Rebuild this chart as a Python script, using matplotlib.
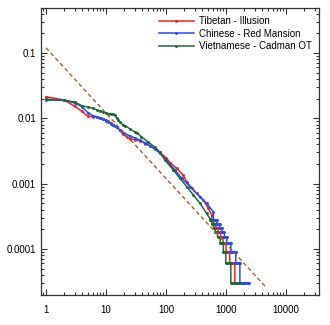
import numpy as np
import matplotlib
matplotlib.use("Agg")
import matplotlib.pyplot as plt
from matplotlib.ticker import LogLocator, FuncFormatter, NullFormatter

plt.rcParams['font.family'] = ['Liberation Sans', 'DejaVu Sans']

# rank / relative frequency, head and middle part of each text
tib_rank = [1, 2, 3, 4, 5, 6, 7, 8, 9, 10, 11, 12, 13, 15, 17, 19, 22, 25, 30, 37,
            45, 54, 65, 79, 100, 117, 150, 194, 220, 269, 325, 419, 508, 576]
tib_freq = [0.0214, 0.0191, 0.0153, 0.0128, 0.0107, 0.0106, 0.0105, 0.0101, 0.0097,
            0.0093, 0.0090, 0.0085, 0.0080, 0.0074, 0.0066, 0.0057, 0.0052, 0.0049,
            0.0047, 0.0045, 0.0041, 0.0038, 0.0034, 0.0030, 0.0025, 0.0021, 0.00171,
            0.00135, 0.00107, 0.00085, 0.00071, 0.00056, 0.00042, 0.00033]

chn_rank = [1, 2, 3, 4, 5, 6, 7, 8, 9, 10, 11, 12, 13, 14, 15, 17, 20, 25, 30, 37,
            45, 54, 65, 79, 100, 141, 183, 251, 368, 475, 614]
chn_freq = [0.0189, 0.0189, 0.0172, 0.0150, 0.0122, 0.0110, 0.0106, 0.0102, 0.0099,
            0.0092, 0.0088, 0.0083, 0.0079, 0.0076, 0.0073, 0.0066, 0.0059, 0.0054,
            0.0050, 0.0046, 0.0042, 0.0038, 0.0034, 0.0029, 0.0023, 0.00162, 0.00121,
            0.00090, 0.00063, 0.00050, 0.00037]

vie_rank = [1, 2, 3, 4, 5, 6, 7, 8, 9, 10, 11, 12, 13, 14, 15, 16, 17, 19, 21, 25,
            30, 33, 39, 51, 66, 80, 96, 132, 171, 221, 286, 368, 475, 540]
vie_freq = [0.0197, 0.0189, 0.0178, 0.0155, 0.0149, 0.0143, 0.0135, 0.0129, 0.0125,
            0.0121, 0.0118, 0.0118, 0.0117, 0.0112, 0.0102, 0.0094, 0.0087, 0.0080,
            0.0077, 0.0069, 0.0062, 0.0060, 0.0052, 0.0043, 0.0036, 0.0030, 0.0023,
            0.00162, 0.00120, 0.00090, 0.00067, 0.00050, 0.00035, 0.00029]

# low-count tail: last rank holding each count (counts 9 .. 1)
tail_counts = [9, 8, 7, 6, 5, 4, 3, 2, 1]
corpus_size = 33000
tib_tail_end = [620, 680, 740, 810, 890, 1000, 1150, 1400, 2000]
chn_tail_end = [700, 780, 850, 940, 1030, 1200, 1450, 1700, 2445]
vie_tail_end = [580, 620, 660, 720, 800, 900, 990, 1200, 1700]

# reference power law  c * r^a
ref_coef = 0.12
ref_exp = -1.0
ref_range = [1, 4500]

series = [
    ("Tibetan - Illusion", tib_rank, tib_freq, tib_tail_end, "#f2201a"),
    ("Chinese - Red Mansion", chn_rank, chn_freq, chn_tail_end, "#1f4cff"),
    ("Vietnamese - Cadman OT", vie_rank, vie_freq, vie_tail_end, "#1b6b38"),
]


def with_tail(rank, freq, ends):
    r = list(rank)
    f = list(freq)
    start = rank[-1] + 1
    for cnt, end in zip(tail_counts, ends):
        lvl = cnt / corpus_size
        r += [start, end]
        f += [lvl, lvl]
        start = end + 1
    return r, f


fig = plt.figure(figsize=(3.3, 3.25), dpi=100)
ax = fig.add_axes([0.124, 0.0923, 0.843, 0.8831])

for label, rank, freq, ends, col in series:
    r, f = with_tail(rank, freq, ends)
    ax.plot(r, f, color=col, lw=1.1, marker='.', ms=2.2, label=label)
    # horizontal runs of equal counts are dense with points -> thicker
    lv = np.array(tail_counts) / corpus_size
    starts = [rank[-1] + 1] + [e + 1 for e in ends[:-1]]
    ax.hlines(lv, starts, ends, color=col, lw=2.0)

xr = np.array(ref_range, dtype=float)
ax.plot(xr, ref_coef * xr ** ref_exp, color="#a06428", lw=1.0,
        dashes=(3, 2))

ax.set_xscale('log')
ax.set_yscale('log')
ax.set_xlim(0.825, 35500)
ax.set_ylim(1.97e-5, 0.489)

fmt = FuncFormatter(lambda v, _: f"{v:g}")
for axis in (ax.xaxis, ax.yaxis):
    axis.set_major_locator(LogLocator(base=10, numticks=12))
    axis.set_minor_locator(LogLocator(base=10, subs=np.arange(2, 10), numticks=12))
    axis.set_major_formatter(fmt)
    axis.set_minor_formatter(NullFormatter())

ax.tick_params(which='both', direction='in', top=True, right=True,
               labelsize=7, width=0.8, color='#333333')
ax.tick_params(which='major', length=4.3)
ax.tick_params(which='minor', length=2.2)
ax.tick_params(axis='x', pad=7)
ax.tick_params(axis='y', pad=3.5)
for sp in ax.spines.values():
    sp.set_linewidth(0.9)
    sp.set_color('#333333')

ax.legend(loc='upper right', bbox_to_anchor=(1.0, 0.995), frameon=False,
          fontsize=7, handlelength=3.6, handletextpad=0.6, labelspacing=0.25,
          borderaxespad=0.3)

fig.savefig("out.png", dpi=100)
